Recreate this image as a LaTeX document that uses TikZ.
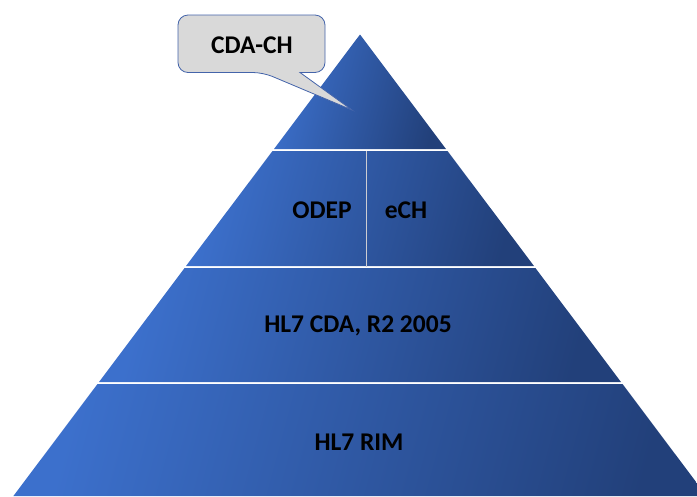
\documentclass[tikz,border=0pt]{standalone}
\usepackage{fontspec}
\setmainfont{Carlito}
\begin{document}
\begin{tikzpicture}[x=1pt,y=-1pt,
  layer/.style={left color=lightblue, right color=darkblue, shading angle=75},
  lbl/.style={font=\fontsize{25.5}{30}\selectfont\bfseries, text=black, inner sep=0pt},
  sep/.style={draw=sepgray, line width=1.5pt}]
\definecolor{lightblue}{RGB}{60,112,204}
\definecolor{darkblue}{RGB}{34,64,122}
\definecolor{sepgray}{RGB}{205,205,210}
\definecolor{callfill}{RGB}{217,217,217}
\definecolor{callborder}{RGB}{68,100,170}
\useasboundingbox (0,0) rectangle (697,496);
\begin{scope}
\clip (0,0) rectangle (697,496);
% layers
\path[layer] (360,34.5) -- (446,149) -- (274,149) -- cycle;
\path[layer] (272.5,151) -- (447.5,151) -- (534,266) -- (186,266) -- cycle;
\path[layer] (184.6,268) -- (535.4,268) -- (621,382) -- (99,382) -- cycle;
\path[layer] (97.5,384) -- (622.5,384) -- (706.6,496) -- (13.4,496) -- cycle;
\end{scope}
\coordinate (dtop) at (366.5,151);
\coordinate (dbot) at (366.5,267);
\draw[sep] (dtop) -- (dbot);
% callout
\coordinate (tip) at (352,110);
\draw[fill=callfill, draw=callborder, line width=0.8pt]
  (300,72.5) [rounded corners=10] -- (325,72.5) -- (325,15) -- (178,15) -- (178,72.5) -- (263,72.5) [sharp corners] -- (tip) -- cycle;
\node[lbl] (cda) at (252,45) {CDA-CH};
\node[lbl] (odep) at (322,210) {ODEP};
\node[lbl] (ech) at (406,210) {eCH};
\node[lbl] (hl7cda) at (358,326) {HL7 CDA, R2 2005};
\node[lbl] (rim) at (359,442) {HL7 RIM};
\end{tikzpicture}
\end{document}
